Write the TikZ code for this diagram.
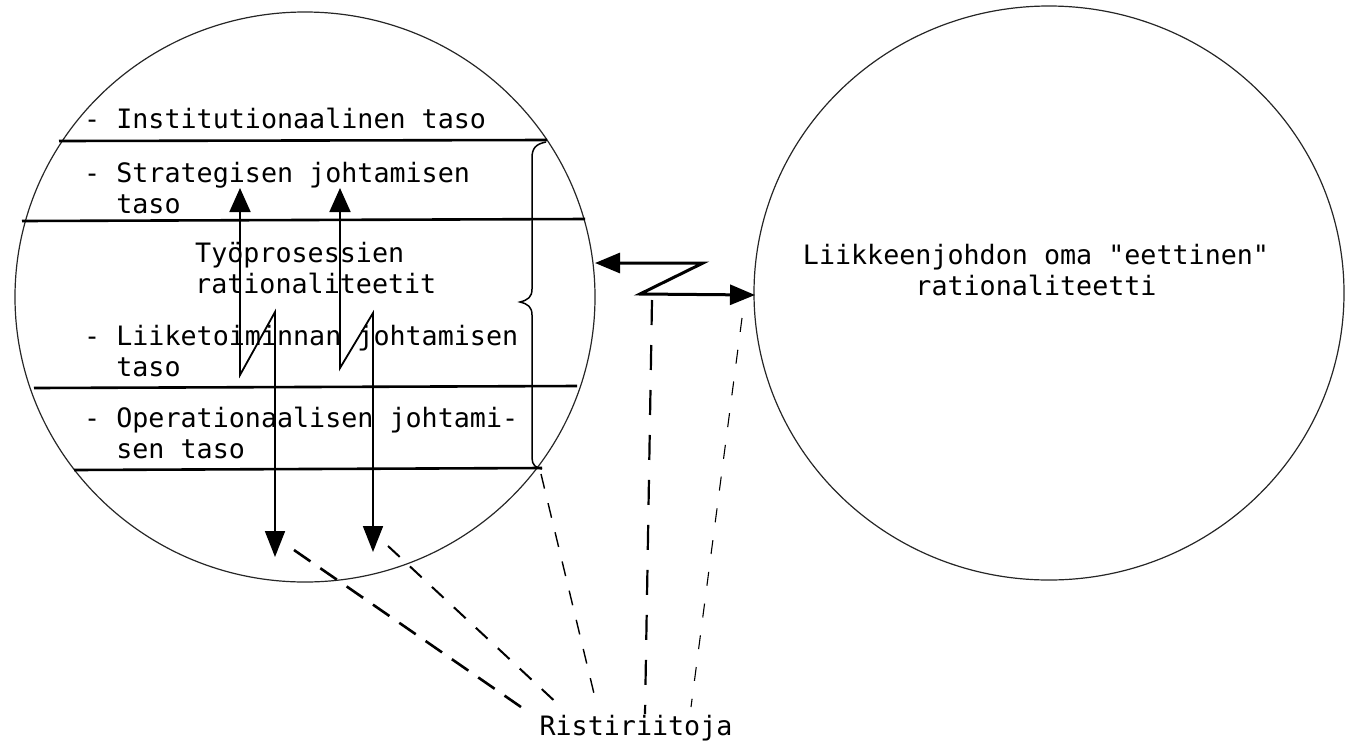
\documentclass[tikz,border=0pt]{standalone}
\usepackage{fontspec}
\setmonofont{DejaVu Sans Mono}
\usetikzlibrary{arrows.meta,shapes.geometric}
\newcommand\mylines[2][l]{\begin{tabular}[t]{@{}#1@{}}#2\end{tabular}}
\begin{document}
\begin{tikzpicture}[x=1pt,y=-1pt,
  lbl/.style={inner sep=0pt, font=\ttfamily\fontsize{26.7}{31.5}\selectfont, anchor=base west},
  ring/.style={draw=black!85, ellipse, line width=1.2pt, inner sep=0pt},
  level/.style={line width=2.6pt},
  zig/.style={line width=1.8pt, line join=miter,
     {Triangle[length=24pt,width=21pt]}-{Triangle[length=26pt,width=20pt]}},
  zarrow/.style={line width=3pt,
     {Triangle[length=25pt,width=20pt]}-{Triangle[length=25pt,width=20pt]}},
  dA/.style={line width=2.6pt, dash pattern=on 20pt off 12pt},
  dB/.style={line width=2pt, dash pattern=on 16pt off 14pt},
  dC/.style={line width=1.4pt, dash pattern=on 15pt off 15pt},
  dD/.style={line width=2.2pt, dash pattern=on 25pt off 20pt},
  dE/.style={line width=1.1pt, dash pattern=on 14pt off 18pt},
]
\useasboundingbox (0,0) rectangle (1356,745);

% circles
\node[ring, minimum width=580pt, minimum height=570pt] (L) at (305,297) {};
\node[ring, minimum width=590pt, minimum height=574pt] (R) at (1049,293) {};

% level lines
\draw[level] (59,141) -- (547,140);
\draw[level] (22,221) -- (585,219);
\draw[level] (34,388) -- (577,386);
\draw[level] (74,470) -- (542,468);

% texts in the left circle
\node[lbl] (inst) at (84,128) {- Institutionaalinen taso};
\node[lbl] (strat) at (84,182) {\mylines{- Strategisen johtamisen\\\phantom{-\ }taso}};
\node[lbl] (tyo) at (195,262) {\mylines{Työprosessien\\rationaliteetit}};
\node[lbl] (liike) at (84,345) {\mylines{- Liiketoiminnan johtamisen\\\phantom{-\ }taso}};
\node[lbl] (oper) at (84,427) {\mylines{- Operationaalisen johtami-\\\phantom{-\ }sen taso}};

% text in the right circle
\node[lbl, anchor=base] (eet) at (1036,264) {\mylines[c]{Liikkeenjohdon oma "eettinen"\\rationaliteetti}};

% label
\node[lbl, anchor=base] (rist) at (636,735) {Ristiriitoja};

% brace
\draw[line width=1.5pt] (546,142) .. controls (536,144) and (532,148) .. (532,158)
  -- (532,289) .. controls (532,297) and (528,300) .. (520,302)
  .. controls (528,304) and (532,307) .. (532,315)
  -- (532,458) .. controls (532,465) and (536,468) .. (542,469);

% zig-zag arrows in the left circle
\coordinate (u1) at (240,188);
\coordinate (d1) at (275,557);
\coordinate (u2) at (340,188);
\coordinate (d2) at (373,552);
\draw[zig] (u1) -- (240,375) -- (275,312) -- (d1);
\draw[zig] (u2) -- (340,368) -- (373,313) -- (d2);

% Z arrow between the circles
\coordinate (zl) at (595,263);
\coordinate (zr) at (755,295);
\draw[zarrow] (zl) -- (703,263) -- (640,294) -- (zr);

% dashed lines to the label
\coordinate (a0) at (294,550);
\coordinate (b0) at (388,546);
\coordinate (c0) at (541,474);
\coordinate (e0) at (652,300);
\coordinate (f0) at (742,318);
\coordinate (a1) at (521,707);
\coordinate (b1) at (561,707);
\coordinate (c1) at (597,706);
\coordinate (e1) at (645,714);
\coordinate (f1) at (691,707);
\draw[dA] (a0) -- (a1);
\draw[dB] (b0) -- (b1);
\draw[dC] (c0) -- (c1);
\draw[dD] (e0) -- (e1);
\draw[dE] (f0) -- (f1);
\end{tikzpicture}
\end{document}
